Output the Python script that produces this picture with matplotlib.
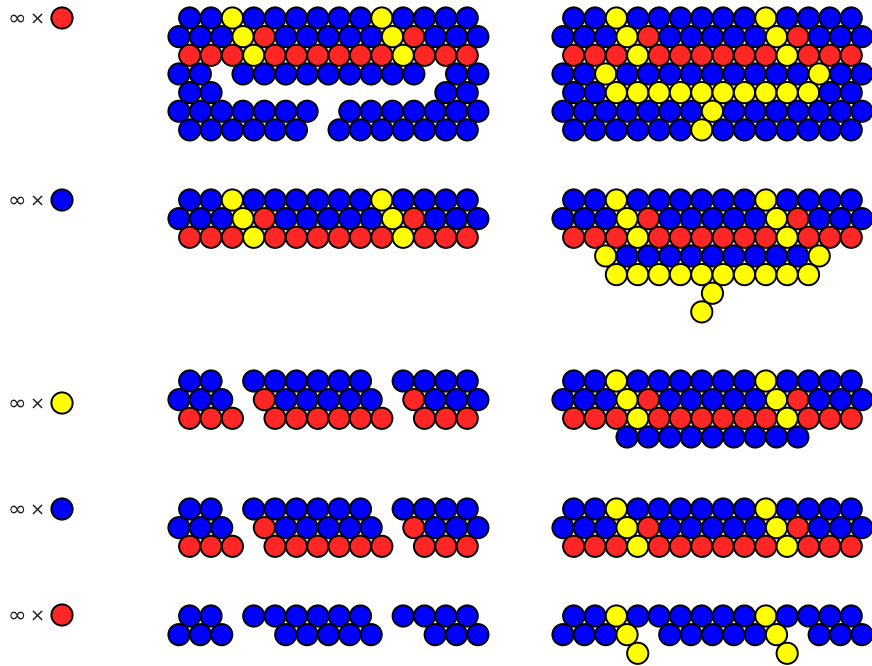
import matplotlib
matplotlib.use("Agg")
import matplotlib.pyplot as plt
from matplotlib.patches import Circle

# colour codes used in the row strings, "." means no disc
colors = {"B": "#0000FF", "R": "#FF2626", "Y": "#FFFF00"}

top = ["BBYBBBBBBYBBBB", "BBBYRBBBBBYRBBB", "RRRYRRRRRRYRRR"]

left_1 = top + ["BB.BBBBBBBBB.BB", "BB..........BB", "BBBBBBB.BBBBBBB", "BBBBBB.BBBBBBB"]
right_1 = top + ["BBYBBBBBBBBBYBB", "BBYYYYYYYYYYBB", "BBBBBBBYBBBBBBB", "BBBBBBYBBBBBBB"]

left_2 = top
right_2 = top + ["..YBBBBBBBBBY..", "..YYYYYYYYYY..", ".......Y.......", "......Y......."]

left_3 = ["BB.BBBBBB.BBBB", "BBB.RBBBBB.RBBB", "RRR.RRRRRR.RRR"]
right_3 = top + ["...BBBBBBBBB..."]

left_4 = left_3
right_4 = top

left_5 = ["BB.BBBBBB.BBBB", "BBB..BBBBB..BBB"]
right_5 = ["BBYBBBBBBYBBBB", "BBBY.BBBBBY.BBB", "...Y......Y..."]

lefts = [left_1, left_2, left_3, left_4, left_5]
rights = [right_1, right_2, right_3, right_4, right_5]
label_colors = ["R", "B", "Y", "B", "R"]

# layout in pixels
row_top = [18, 200, 381, 509, 616]
label_y = [18, 200, 403, 509, 615]
dx = 21.35
dy = 18.65
r = 10.6
x_left, x_right = 179, 563

fig = plt.figure(figsize=(8.72, 6.66), dpi=100)
ax = fig.add_axes([0, 0, 1, 1])
ax.set_xlim(0, 872)
ax.set_ylim(666, 0)
ax.set_aspect("equal")
ax.axis("off")


def draw_block(rows, x0, y0):
    for i, row in enumerate(rows):
        shift = 0 if i % 2 == 1 else dx / 2
        for j, ch in enumerate(row):
            if ch == ".":
                continue
            ax.add_patch(Circle((x0 + shift + j * dx, y0 + i * dy), r,
                                facecolor=colors[ch], edgecolor="black", lw=1.4))


for k in range(5):
    draw_block(lefts[k], x_left, row_top[k])
    draw_block(rights[k], x_right, row_top[k])
    ax.text(17, label_y[k] + 7, "∞", fontsize=16, color="#222222", ha="center", va="baseline")
    ax.text(37, label_y[k] + 7, "×", fontsize=13, color="#222222", ha="center", va="baseline")
    ax.add_patch(Circle((62, label_y[k]), r, facecolor=colors[label_colors[k]],
                        edgecolor="black", lw=1.4))

fig.savefig("out.png", dpi=100)
